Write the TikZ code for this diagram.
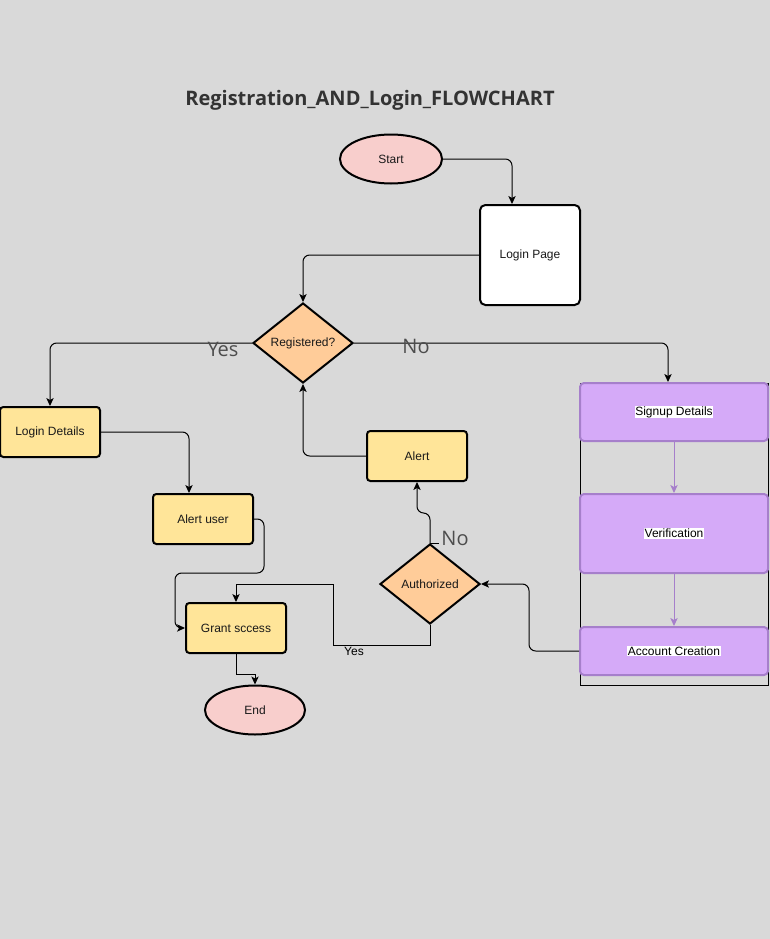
\documentclass[tikz,border=0pt]{standalone}
\usepackage{fontspec}
\setmainfont{Liberation Sans}
\newfontfamily\opensans{Open Sans}
\usetikzlibrary{shapes.geometric,arrows.meta}
\definecolor{bg}{HTML}{D9D9D9}
\definecolor{pinkfill}{HTML}{F8CECC}
\definecolor{peach}{HTML}{FFCC99}
\definecolor{yell}{HTML}{FFE599}
\definecolor{purp}{HTML}{D5AAF8}
\definecolor{purpline}{HTML}{A67FCB}
\definecolor{titlecol}{HTML}{333333}
\definecolor{lblcol}{HTML}{4D4D4D}
\tikzset{
  base/.style={draw=black, line width=1.5pt, font=\fontsize{9}{11}\selectfont, inner sep=0pt, text=black!90},
  oval/.style={base, ellipse, fill=pinkfill, minimum width=76.5pt, minimum height=36.75pt},
  box/.style={base, rectangle, rounded corners=2.5pt, fill=yell, minimum width=75pt, minimum height=37.5pt},
  choice/.style={base, diamond, fill=peach, minimum width=75pt, minimum height=60pt},
  pbox/.style={draw=purpline, line width=1.5pt, rounded corners=3pt, fill=purp, minimum width=141pt, inner sep=0pt,
    font=\fontsize{9}{11}\selectfont},
  ptext/.style={fill=white, inner sep=0.5pt, font=\fontsize{9}{11}\selectfont},
  conn/.style={draw=black, line width=0.75pt, -{Stealth[length=6pt,width=5.5pt,inset=1.5pt]}},
  pconn/.style={draw=purpline, line width=0.75pt, -{Stealth[length=6pt,width=5.5pt,inset=1.5pt]}},
  biglbl/.style={text=lblcol, font=\opensans\fontsize{15}{17}\selectfont, inner sep=0pt},
}
\begin{document}
\begin{tikzpicture}[x=0.75pt,y=-0.75pt]
\useasboundingbox[fill=bg] (0,0) rectangle (770,939);

\node[text=titlecol, font=\opensans\bfseries\fontsize{15}{18}\selectfont, inner sep=0pt] (title) at (370,100) {Registration\_AND\_Login\_FLOWCHART};

\node[oval] (start) at (391,159) {Start};
\node[base, rectangle, rounded corners=4pt, fill=white, minimum width=75pt, minimum height=75pt] (login) at (530,255) {Login Page};
\node[choice] (reg) at (303,343) {Registered?};
\node[box] (ld) at (50,432) {Login Details};
\node[box] (alert) at (417,456) {Alert};
\node[box] (au) at (203,519) {Alert user};
\node[choice] (auth) at (430,584) {Authorized};
\node[box] (gs) at (236,628) {Grant sccess};
\node[oval, minimum width=75pt] (end) at (255,710) {End};

% signup container
\node[draw=black, line width=0.75pt, minimum width=141pt, minimum height=226.5pt, inner sep=0pt] (cont) at (674,534) {};
\node[pbox, minimum height=43.5pt] (sd) at (674,412) {};
\node[ptext] (sdt) at (sd.center) {Signup Details};
\node[pbox, minimum height=59.25pt] (ver) at (674,533.5) {};
\node[ptext] (vert) at (ver.center) {Verification};
\node[pbox, minimum height=36pt] (acc) at (674,651) {};
\node[ptext] (acct) at (acc.center) {Account Creation};

% connectors
\draw[conn, rounded corners=5pt] (start.east) -| ([xshift=-13.5pt]login.north);
\draw[conn, rounded corners=5pt] (login.west) -| (reg.north);
\draw[conn, rounded corners=5pt] (reg.west) -| (ld.north);
\draw[conn, rounded corners=5pt] (reg.east) -| ([xshift=-4.5pt]sd.north);
\draw[pconn] (sd.south) -- (ver.north);
\draw[pconn] (ver.south) -- (acc.north);
\draw[conn, rounded corners=5pt] (acc.west) -- ++(-50,0) |- (auth.east);
\draw[conn, rounded corners=5pt] (auth.north) -- ++(0,-30) -| (alert.south);
\draw[line width=0.75pt] (auth.north) -- ++(9,0);
\draw[conn, rounded corners=5pt] (alert.west) -| (reg.south);
\draw[conn, rounded corners=5pt] (ld.east) -| ([xshift=-10.5pt]au.north);
\draw[conn, rounded corners=5pt] (au.east) -- ++(10,0) -- ++(0,54) -| ([xshift=-7.5pt]gs.west) -- (gs.west);
\draw[conn] (auth.south) -- ++(0,20) -- ++(-97,0) -- ++(0,-61) -| (gs.north);
\draw[conn] (gs.south) -- ++(0,20) -| (end.north);

% labels
\node[biglbl] (yes1) at (223,349) {Yes};
\node[biglbl] (no1) at (416,346) {No};
\node[biglbl] (no2) at (455,538) {No};
\node[font=\fontsize{9}{11}\selectfont, inner sep=0pt] (yes2) at (354,651) {Yes};
\end{tikzpicture}
\end{document}
